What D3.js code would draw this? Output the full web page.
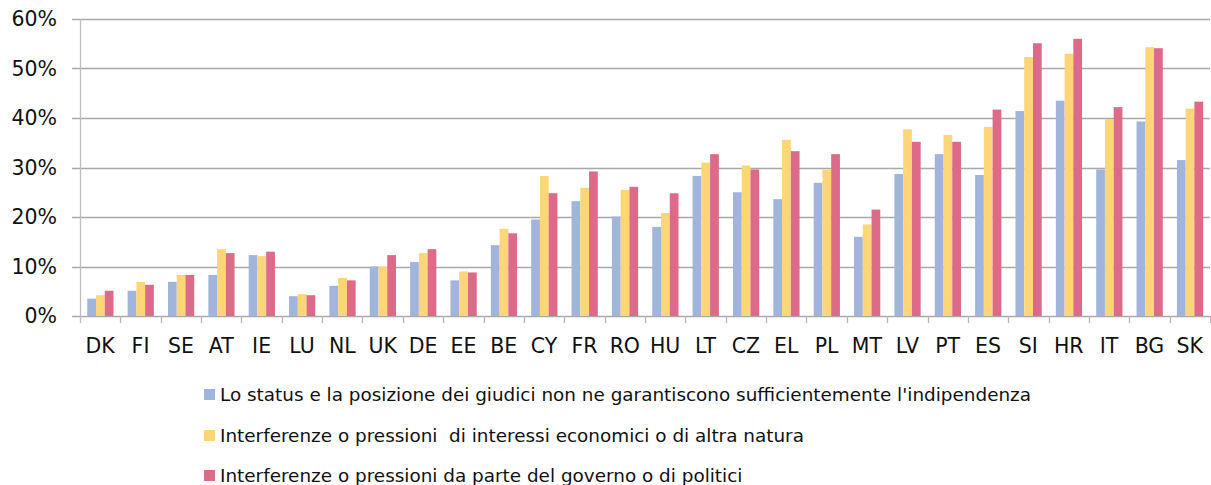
<!DOCTYPE html>
<html>
<head>
<meta charset="utf-8">
<script src="https://cdn.jsdelivr.net/npm/d3@7"></script>
<style>
  body { margin: 0; background: #fff; }
  svg { display: block; font-family: 'DejaVu Sans', sans-serif; }
</style>
</head>
<body>
<div id="chart"></div>
<script>
// Paesi, in ordine di visualizzazione
const countries = ['DK', 'FI', 'SE', 'AT', 'IE', 'LU', 'NL', 'UK', 'DE', 'EE', 'BE', 'CY', 'FR', 'RO',
  'HU', 'LT', 'CZ', 'EL', 'PL', 'MT', 'LV', 'PT', 'ES', 'SI', 'HR', 'IT', 'BG', 'SK'];

// valori in percentuale
const statusGiudici = [3.5, 5.1, 6.9, 8.3, 12.3, 4.0, 6.1, 10.0, 10.9, 7.2, 14.3, 19.5, 23.2, 20.1,
  18.0, 28.3, 25.0, 23.6, 26.9, 16.0, 28.7, 32.7, 28.5, 41.4, 43.5, 29.6, 39.3, 31.5];
const interessiEconomici = [4.2, 6.9, 8.3, 13.5, 12.1, 4.4, 7.7, 10.0, 12.7, 9.0, 17.6, 28.3, 25.9, 25.5,
  20.8, 31.0, 30.4, 35.6, 29.6, 18.5, 37.7, 36.6, 38.2, 52.3, 53.0, 39.8, 54.3, 41.9];
const governoPolitici = [5.1, 6.3, 8.3, 12.7, 13.0, 4.2, 7.2, 12.3, 13.5, 8.8, 16.7, 24.8, 29.2, 26.1,
  24.8, 32.7, 29.6, 33.3, 32.7, 21.5, 35.2, 35.2, 41.7, 55.1, 56.0, 42.2, 54.1, 43.3];

const seriesNames = [
  "Lo status e la posizione dei giudici non ne garantiscono sufficientemente l'indipendenza",
  'Interferenze o pressioni  di interessi economici o di altra natura',
  'Interferenze o pressioni da parte del governo o di politici',
];
const yTicks = [0, 10, 20, 30, 40, 50, 60];

const width = 1211;
const height = 485;
const plotLeft = 80, plotRight = 1210, plotTop = 19, plotBottom = 316;
const colours = ['#a1b4dc', '#fed677', '#dd6a89'];

const seriesValues = [statusGiudici, interessiEconomici, governoPolitici];
const rows = countries.map((c, i) => ({ country: c, values: seriesValues.map(s => s[i]) }));

const svg = d3.select('#chart').append('svg')
  .attr('width', width)
  .attr('height', height);

const x0 = d3.scaleBand().domain(countries).range([plotLeft, plotRight]).padding(0);
const x1 = d3.scaleBand().domain([0, 1, 2])
  .range([x0.bandwidth() * 0.18, x0.bandwidth() * 0.83]).padding(0);
const y = d3.scaleLinear().domain([0, 60]).range([plotBottom, plotTop]);

// griglia orizzontale
svg.append('g')
  .selectAll('line')
  .data(yTicks)
  .join('line')
  .attr('x1', plotLeft - 8)
  .attr('x2', plotRight)
  .attr('y1', d => Math.round(y(d)) + 0.5)
  .attr('y2', d => Math.round(y(d)) + 0.5)
  .attr('stroke', '#a9a9a9')
  .attr('stroke-width', 1.3);

// barre
svg.append('g')
  .selectAll('g')
  .data(rows)
  .join('g')
  .attr('transform', d => `translate(${x0(d.country)},0)`)
  .selectAll('rect')
  .data(d => d.values.map((v, k) => ({ k, v })))
  .join('rect')
  .attr('x', d => x1(d.k))
  .attr('width', x1.bandwidth())
  .attr('y', d => y(d.v))
  .attr('height', d => y(0) - y(d.v))
  .attr('fill', d => colours[d.k]);

// asse verticale
svg.append('line')
  .attr('x1', plotLeft + 0.5).attr('x2', plotLeft + 0.5)
  .attr('y1', plotTop).attr('y2', plotBottom + 7)
  .attr('stroke', '#bdbdbd')
  .attr('stroke-width', 1.3);

// tacche tra le categorie
svg.append('g')
  .selectAll('line')
  .data(countries)
  .join('line')
  .attr('x1', d => Math.round(x0(d) + x0.bandwidth()) + 0.5)
  .attr('x2', d => Math.round(x0(d) + x0.bandwidth()) + 0.5)
  .attr('y1', plotBottom)
  .attr('y2', plotBottom + 7)
  .attr('stroke', '#b5b5b5')
  .attr('stroke-width', 1.3);

// etichette asse y
svg.append('g')
  .selectAll('text')
  .data(yTicks)
  .join('text')
  .attr('x', 57)
  .attr('y', d => y(d))
  .attr('dy', '0.36em')
  .attr('text-anchor', 'end')
  .attr('font-size', 20.5)
  .attr('fill', '#111')
  .text(d => d + '%');

// etichette asse x
svg.append('g')
  .selectAll('text')
  .data(countries)
  .join('text')
  .attr('x', d => x0(d) + x0.bandwidth() / 2)
  .attr('y', 353)
  .attr('text-anchor', 'middle')
  .attr('font-size', 20.5)
  .attr('fill', '#111')
  .text(d => d);

// legenda
const legend = svg.append('g')
  .selectAll('g')
  .data(seriesNames)
  .join('g')
  .attr('transform', (d, i) => `translate(204, ${[389, 430, 470][i]})`);

legend.append('rect')
  .attr('width', 11)
  .attr('height', 11)
  .attr('fill', (d, i) => colours[i]);

legend.append('text')
  .attr('x', 16)
  .attr('y', 5.5)
  .attr('dy', '0.36em')
  .attr('font-size', 18.4)
  .attr('fill', '#111')
  .style('white-space', 'pre')
  .text(d => d);
</script>
</body>
</html>
